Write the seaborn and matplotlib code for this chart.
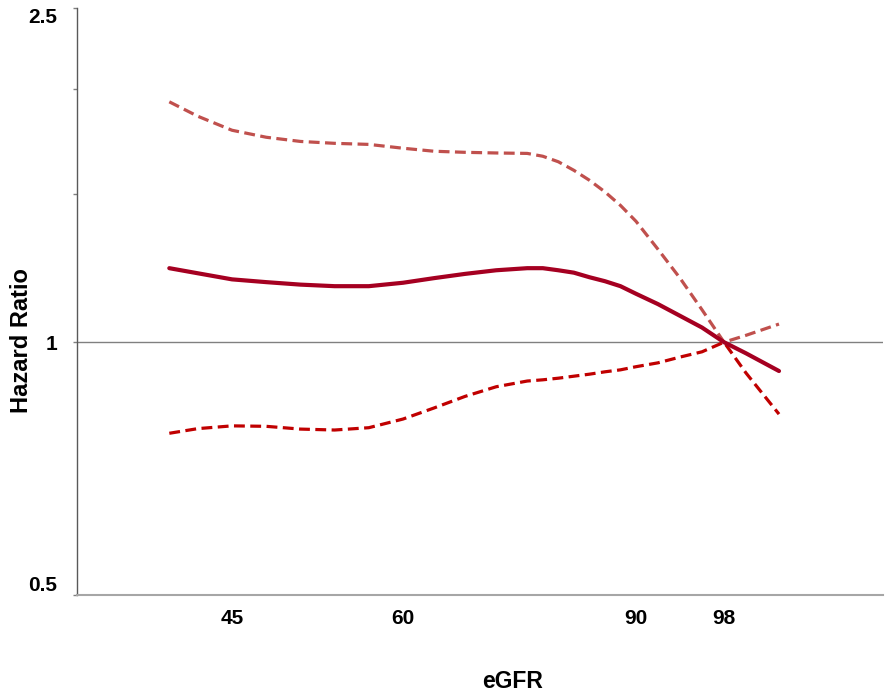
import numpy as np
import pandas as pd
import matplotlib
matplotlib.use("Agg")
import matplotlib.pyplot as plt
from matplotlib.ticker import NullLocator, FixedLocator, FixedFormatter
import seaborn as sns

# eGFR values at which the spline hazard ratio was evaluated
egfr = [39.5, 42, 45, 48, 51, 54, 57, 60, 64, 68, 72, 76, 78, 80, 82, 84,
        86, 88, 90, 92, 94, 96, 98, 100, 103]
# Hazard ratio (reference eGFR = 98)
hazard_ratio = [1.225, 1.208, 1.188, 1.179, 1.171, 1.166, 1.166, 1.177, 1.192,
                1.206, 1.218, 1.225, 1.225, 1.218, 1.210, 1.195, 1.182, 1.166,
                1.142, 1.110, 1.075, 1.041, 1.0, 0.970, 0.924]
# 95% confidence bounds
ci_upper = [1.933, 1.858, 1.788, 1.754, 1.734, 1.725, 1.720, 1.702, 1.688,
            1.683, 1.680, 1.678, 1.665, 1.640, 1.602, 1.559, 1.510, 1.455,
            1.393, 1.290, 1.192, 1.093, 1.0, 1.019, 1.051]
ci_lower = [0.779, 0.789, 0.795, 0.794, 0.788, 0.786, 0.791, 0.810, 0.835,
            0.862, 0.885, 0.899, 0.902, 0.906, 0.911, 0.916, 0.922, 0.927,
            0.935, 0.945, 0.960, 0.974, 1.0, 0.919, 0.821]

x_ticks = [45, 60, 90, 98]
y_ticks = [0.5, 1, 1.5, 2, 2.5]
y_tick_labels = ["0.5", "1", "", "", "2.5"]

df = pd.DataFrame({"eGFR": egfr, "HR": hazard_ratio,
                   "upper": ci_upper, "lower": ci_lower})

sns.set_theme(style="white")
plt.rcParams["font.family"] = ["Liberation Sans", "DejaVu Sans"]

fig = plt.figure(figsize=(8.86, 6.92), dpi=100)
ax = fig.add_axes([77 / 886, 1 - 595 / 692, (883 - 77) / 886, (595 - 8) / 692])

dash = (0, (3.4, 1.7))
sns.lineplot(data=df, x="eGFR", y="upper", ax=ax, color="#C0504D",
             linewidth=2.3, linestyle=dash, estimator=None)
sns.lineplot(data=df, x="eGFR", y="lower", ax=ax, color="#C00000",
             linewidth=2.3, linestyle=dash, estimator=None)
sns.lineplot(data=df, x="eGFR", y="HR", ax=ax, color="#A50021",
             linewidth=3.0, estimator=None, solid_capstyle="round",
             solid_joinstyle="round")

ax.axhline(1.0, color="#808080", linewidth=1.0, zorder=0)

# Piecewise-linear x axis with the category-like spacing of the eGFR ticks
anchor_egfr = np.array([30, 45, 60, 90, 98, 115], dtype=float)
anchor_pos = np.array([61, 232, 403, 636, 724, 911], dtype=float)


def fwd(v):
    return np.interp(v, anchor_egfr, anchor_pos)


def inv(p):
    return np.interp(p, anchor_pos, anchor_egfr)


ax.set_xscale("function", functions=(fwd, inv))
ax.set_xlim(inv(77), inv(883))
ax.set_yscale("log")
ax.set_ylim(0.5, 2.5)

ax.xaxis.set_major_locator(FixedLocator(x_ticks))
ax.xaxis.set_major_formatter(FixedFormatter([str(t) for t in x_ticks]))
ax.xaxis.set_minor_locator(NullLocator())
ax.yaxis.set_major_locator(FixedLocator(y_ticks))
ax.yaxis.set_major_formatter(FixedFormatter(y_tick_labels))
ax.yaxis.set_minor_locator(NullLocator())

ax.tick_params(axis="x", length=0, pad=10, labelsize=15, labelcolor="black")
ax.tick_params(axis="y", left=True, length=3, width=1.0, color="#808080",
               pad=11, labelsize=15, labelcolor="black")
for lab in ax.get_xticklabels() + ax.get_yticklabels():
    lab.set_fontweight("bold")
ylabs = ax.get_yticklabels()
ylabs[0].set_va("bottom")
ylabs[-1].set_va("top")

for side in ("top", "right"):
    ax.spines[side].set_visible(False)
ax.spines["left"].set_color("#595959")
ax.spines["left"].set_linewidth(1.0)
ax.spines["bottom"].set_color("#a6a6a6")
ax.spines["bottom"].set_linewidth(1.5)

ax.set_xlabel("eGFR", fontsize=16.5, fontweight="bold", color="black")
ax.xaxis.set_label_coords((513 - 77) / 806, (595 - 670) / 587)
ax.xaxis.label.set_va("top")
ax.set_ylabel("Hazard Ratio", fontsize=17, fontweight="bold", color="black")
ax.yaxis.label.set_va("center")
ax.yaxis.set_label_coords((22 - 77) / 806, (595 - 341) / 587)
ax.grid(False)

fig.savefig("out.png", dpi=100, facecolor="white")
